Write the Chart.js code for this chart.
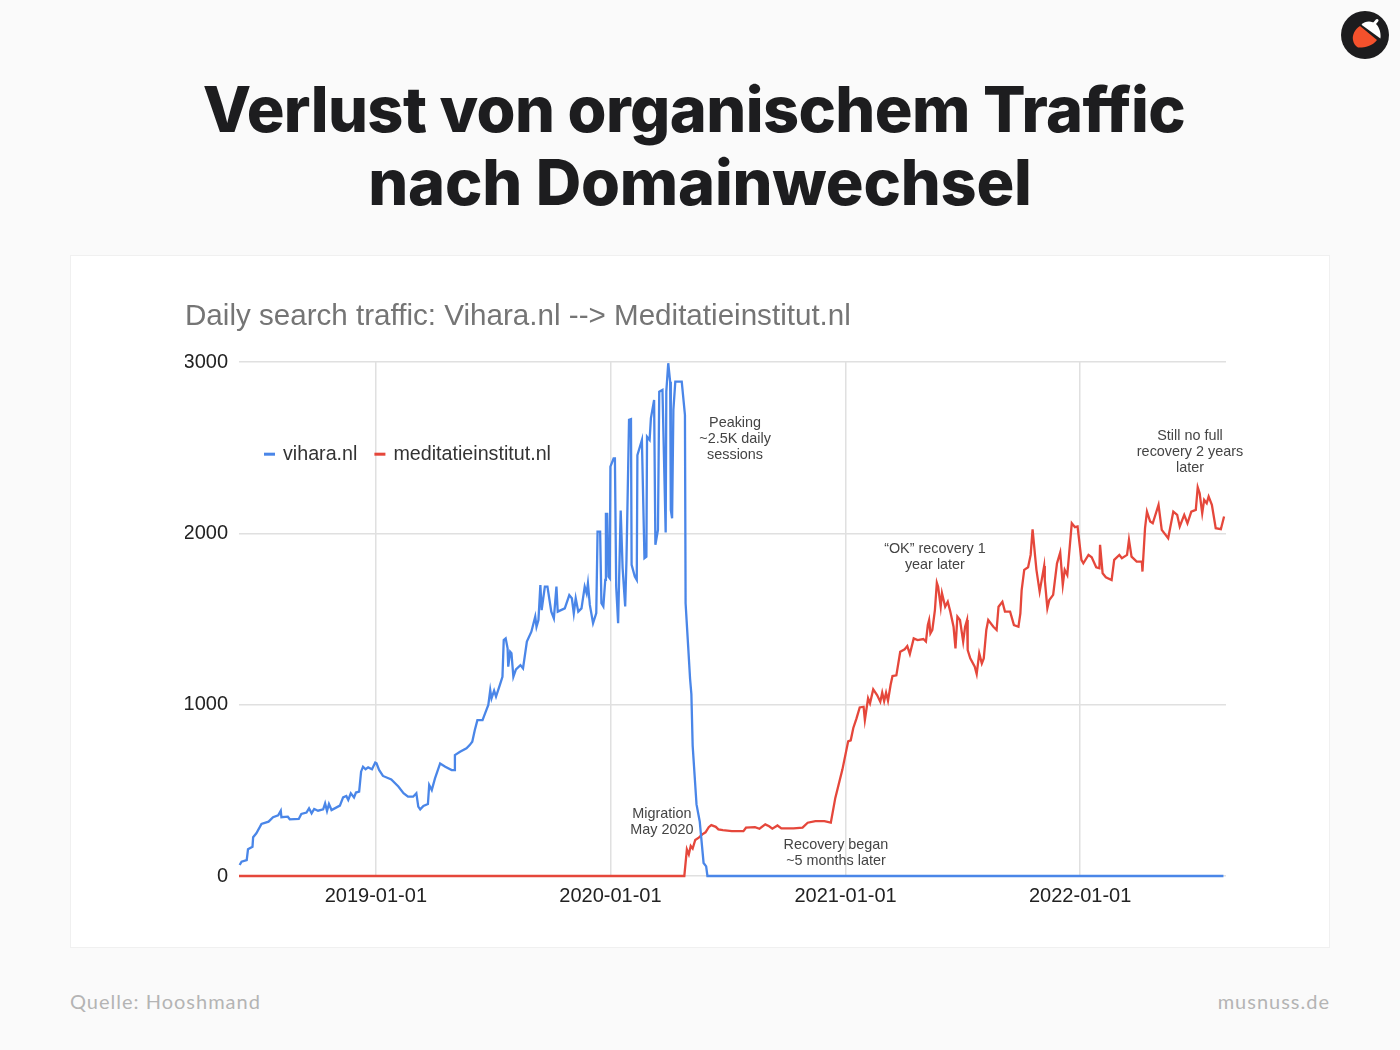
<!DOCTYPE html>
<html lang="de">
<head>
<meta charset="utf-8">
<title>Verlust von organischem Traffic nach Domainwechsel</title>
<script src="https://cdn.jsdelivr.net/npm/chart.js@4"></script>
<style>
  html, body { margin: 0; padding: 0; }
  body { width: 1400px; height: 1050px; background: #fafafa; position: relative; overflow: hidden; }
  h1 {
    position: absolute; left: 0; top: 73px; width: 1400px; margin: 0; text-align: center;
    font: 800 63px/73px Inter, sans-serif; color: #1d1d1f; letter-spacing: -0.2px;
  }
  h1 span { letter-spacing: -0.6px; position: relative; left: -6px; }
  #card { position: absolute; left: 70px; top: 255px; width: 1258px; height: 691px; background: #fff; border: 1px solid #f0f0f0; }
  #card canvas { position: absolute; left: -1px; top: -1px; }
  .foot { position: absolute; top: 989px; font: 400 20px/24px Lato, sans-serif; color: #b4b4b4; letter-spacing: 1px; }
  #logo { position: absolute; left: 1341px; top: 11px; }
</style>
</head>
<body>
<h1><span>Verlust von organischem Traffic</span><br>nach Domainwechsel</h1>
<svg id="logo" width="48" height="48" viewBox="0 0 48 48">
  <circle cx="24" cy="24" r="24" fill="#1c1c1e"/>
  <path d="M19 15 C14 18 11 24 12 29 C12.5 32 14 35 17 36.5 C21 37 31 36 36 29 Z" fill="#f4512c"/>
  <path d="M20.5 13.7 C24 9.5 31 9.5 35 13 C39 17 40 23 39.4 27.4 Z" fill="#fff"/>
  <path d="M33 13 L36 9.5" stroke="#fff" stroke-width="3" stroke-linecap="round"/>
</svg>
<div id="card"><canvas id="traffic-chart" width="1260" height="693"></canvas></div>
<div class="foot" style="left:70px">Quelle: Hooshmand</div>
<div class="foot" style="right:70px">musnuss.de</div>

<script>
// Days are counted from 2019-01-01
const tickDays = [0, 365, 731, 1096];
const tickLabels = ['2019-01-01', '2020-01-01', '2021-01-01', '2022-01-01'];
const valueTicks = [0, 1000, 2000, 3000];

const viharaDays = [-212, -209, -201, -199, -192, -191, -186, -178, -167, -160, -152, -148, -147, -137, -134, -120, -116, -108, -104, -100,
  -96, -90, -82, -79, -76, -73, -69, -56, -51, -46, -43, -39, -34, -31, -26, -23, -20, -16, -12, -6,
  -1, 1, 5, 11, 24, 35, 43, 50, 58, 63, 66, 69, 74, 81, 83, 87, 92, 100, 108, 118,
  122, 123, 131, 141, 146, 150, 154, 158, 166, 171, 175, 178, 180, 184, 187, 193, 197, 199, 202, 205,
  206, 209, 211, 214, 218, 225, 229, 235, 242, 248, 250, 253, 256, 258, 263, 267, 273, 277, 281, 283,
  294, 301, 305, 308, 311, 315, 320, 325, 328, 330, 333, 338, 343, 345, 349, 351, 354, 357, 358, 360,
  362, 364, 365, 370, 372, 374, 377, 381, 384, 388, 390, 394, 397, 398, 403, 406, 407, 414, 418, 421,
  422, 426, 428, 433, 435, 439, 441, 446, 451, 452, 455, 458, 459, 461, 463, 466, 471, 476, 481, 482,
  486, 489, 491, 493, 499, 504, 510, 514, 516, 1319];
const viharaValues = [64, 84, 93, 156, 171, 226, 249, 304, 317, 343, 354, 381, 343, 346, 331, 333, 362, 370, 395, 366,
  391, 381, 389, 424, 379, 420, 385, 411, 459, 467, 444, 483, 459, 487, 492, 609, 638, 623, 634, 623,
  662, 658, 619, 584, 564, 522, 483, 463, 463, 483, 405, 389, 409, 420, 531, 502, 570, 657, 638, 618,
  618, 706, 725, 745, 764, 784, 852, 910, 910, 959, 998, 1085, 1037, 1082, 1047, 1115, 1163, 1377, 1387, 1329,
  1222, 1309, 1300, 1163, 1206, 1231, 1212, 1368, 1426, 1514, 1455, 1494, 1698, 1552, 1689, 1689, 1543, 1504, 1689, 1543,
  1562, 1640, 1621, 1533, 1621, 1543, 1562, 1689, 1650, 1708, 1582, 1475, 1534, 2010, 2010, 1592, 1573, 1728, 2113, 2113,
  1748, 1738, 2389, 2438, 2438, 1689, 1475, 2133, 1796, 1573, 1845, 2662, 2666, 1816, 1748, 1728, 2457, 2545, 1855, 1864,
  2564, 2545, 2671, 2778, 1933, 2020, 2827, 2837, 2005, 2827, 2993, 2885, 2137, 2088, 2720, 2885, 2885, 2885, 2691, 1592,
  1340, 1150, 1062, 761, 418, 318, 76, 56, 0, 0];

const meditatieDays = [-213, 480, 484, 487, 490, 493, 497, 503, 508, 513, 518, 522, 529, 533, 540, 554, 572, 576, 590, 597,
  606, 612, 617, 625, 631, 650, 664, 672, 684, 698, 708, 715, 726, 735, 739, 743, 748, 753, 759, 761,
  766, 769, 774, 780, 785, 788, 791, 794, 797, 801, 804, 810, 816, 823, 827, 831, 837, 843, 852, 856,
  859, 861, 863, 866, 870, 873, 875, 879, 881, 886, 890, 894, 899, 902, 905, 909, 914, 917, 920, 921,
  925, 932, 935, 939, 943, 946, 950, 953, 961, 966, 969, 975, 979, 987, 993, 1000, 1003, 1005, 1009, 1015,
  1019, 1022, 1026, 1028, 1033, 1040, 1041, 1045, 1048, 1054, 1060, 1065, 1069, 1072, 1076, 1083, 1088, 1092, 1098, 1101,
  1109, 1114, 1121, 1126, 1127, 1131, 1136, 1145, 1149, 1157, 1161, 1169, 1172, 1176, 1184, 1192, 1193, 1197, 1200, 1205,
  1209, 1218, 1223, 1233, 1241, 1247, 1251, 1258, 1263, 1269, 1276, 1279, 1282, 1286, 1289, 1293, 1296, 1301, 1307, 1315,
  1320];
const meditatieValues = [0, 0, 155, 126, 175, 160, 210, 225, 243, 255, 285, 297, 287, 272, 268, 262, 262, 282, 285, 276,
  301, 290, 276, 295, 278, 278, 282, 311, 320, 320, 311, 456, 621, 786, 792, 864, 920, 984, 988, 910,
  1037, 1008, 1089, 1056, 1017, 1070, 1021, 1070, 1023, 1115, 1167, 1171, 1309, 1323, 1342, 1296, 1387, 1377, 1383, 1368,
  1465, 1494, 1416, 1436, 1552, 1712, 1689, 1572, 1650, 1572, 1601, 1543, 1455, 1329, 1514, 1494, 1368, 1455, 1494, 1319,
  1270, 1222, 1179, 1299, 1241, 1270, 1436, 1494, 1455, 1436, 1572, 1601, 1543, 1543, 1465, 1455, 1533, 1669, 1787, 1802,
  1874, 2024, 1864, 1787, 1660, 1810, 1728, 1563, 1611, 1641, 1825, 1888, 1699, 1787, 1757, 2059, 2036, 2040, 1845, 1825,
  1874, 1860, 1802, 1796, 1933, 1767, 1744, 1728, 1845, 1874, 1855, 1874, 1962, 1864, 1835, 1835, 1777, 2030, 2127, 2069,
  2059, 2166, 2020, 1971, 2127, 2108, 2040, 2108, 2059, 2127, 2137, 2269, 2234, 2117, 2195, 2176, 2215, 2166, 2030, 2024,
  2098];

const BLUE = '#4a86e8';
const RED = '#e5473b';

function toPoints(days, values) {
  return days.map((d, i) => ({ x: d, y: values[i] }));
}

// Notes inside the plot, first line anchored at a day / value
const notes = [
  { day: 559, value: 2644, lines: ['Peaking', '~2.5K daily', 'sessions'] },
  { day: 445, value: 362, lines: ['Migration', 'May 2020'] },
  { day: 716, value: 181, lines: ['Recovery began', '~5 months later'] },
  { day: 870, value: 1909, lines: ['“OK” recovery 1', 'year later'] },
  { day: 1267, value: 2568, lines: ['Still no full', 'recovery 2 years', 'later'] }
];

const notesPlugin = {
  id: 'notes',
  afterDatasetsDraw(chart) {
    const ctx = chart.ctx;
    const { x, y } = chart.scales;
    ctx.save();
    ctx.font = '14.4px "Liberation Sans", sans-serif';
    ctx.fillStyle = '#444';
    ctx.textAlign = 'center';
    ctx.textBaseline = 'middle';
    notes.forEach(note => {
      note.lines.forEach((line, i) => {
        ctx.fillText(line, x.getPixelForValue(note.day), y.getPixelForValue(note.value) + i * 16);
      });
    });

    // Legend sits inside the plot, like the original
    ctx.font = '19.7px "Liberation Sans", sans-serif';
    ctx.textAlign = 'left';
    let left = chart.chartArea.left + 25;
    const top = y.getPixelForValue(2462);
    chart.data.datasets.forEach(set => {
      ctx.fillStyle = set.borderColor;
      ctx.fillRect(left, top - 1.5, 11, 3);
      ctx.fillStyle = '#333';
      ctx.fillText(set.label, left + 19, top);
      left += 19 + ctx.measureText(set.label).width + 17;
    });
    ctx.restore();
  }
};

new Chart(document.getElementById('traffic-chart'), {
  type: 'line',
  plugins: [notesPlugin],
  data: {
    datasets: [
      { label: 'vihara.nl', data: toPoints(viharaDays, viharaValues), borderColor: BLUE, backgroundColor: BLUE, clip: false },
      { label: 'meditatieinstitut.nl', data: toPoints(meditatieDays, meditatieValues), borderColor: RED, backgroundColor: RED, clip: false }
    ]
  },
  options: {
    responsive: false,
    maintainAspectRatio: false,
    animation: false,
    devicePixelRatio: 1,
    elements: {
      point: { radius: 0 },
      line: { borderWidth: 2.3, tension: 0 }
    },
    layout: { padding: { left: 115, right: 104, top: 44, bottom: 0 } },
    plugins: {
      legend: { display: false },
      tooltip: { enabled: false },
      title: {
        display: true,
        text: 'Daily search traffic: Vihara.nl --> Meditatieinstitut.nl',
        align: 'start',
        color: '#757575',
        font: { family: '"Liberation Sans", sans-serif', size: 29.6, weight: 'normal', lineHeight: 1.2 },
        padding: { top: 0, bottom: 27.5 }
      }
    },
    scales: {
      x: {
        type: 'linear',
        min: -213,
        max: 1323,
        afterBuildTicks(axis) { axis.ticks = tickDays.map(d => ({ value: d })); },
        afterFit(axis) { axis.height = 72; },
        border: { display: false },
        grid: { color: '#e0e0e0', lineWidth: 1.5, drawTicks: false },
        ticks: {
          autoSkip: false,
          maxRotation: 0,
          padding: 8,
          color: '#222',
          font: { family: '"Liberation Sans", sans-serif', size: 20 },
          callback: value => tickLabels[tickDays.indexOf(value)]
        }
      },
      y: {
        min: 0,
        max: 3000,
        afterBuildTicks(axis) { axis.ticks = valueTicks.map(v => ({ value: v })); },
        afterFit(axis) { axis.width = 54; },
        border: { display: false },
        grid: { color: '#e0e0e0', lineWidth: 1.5, drawTicks: false },
        ticks: {
          padding: 11,
          color: '#222',
          font: { family: '"Liberation Sans", sans-serif', size: 20 },
          callback: value => String(value)
        }
      }
    }
  }
});
</script>
</body>
</html>
